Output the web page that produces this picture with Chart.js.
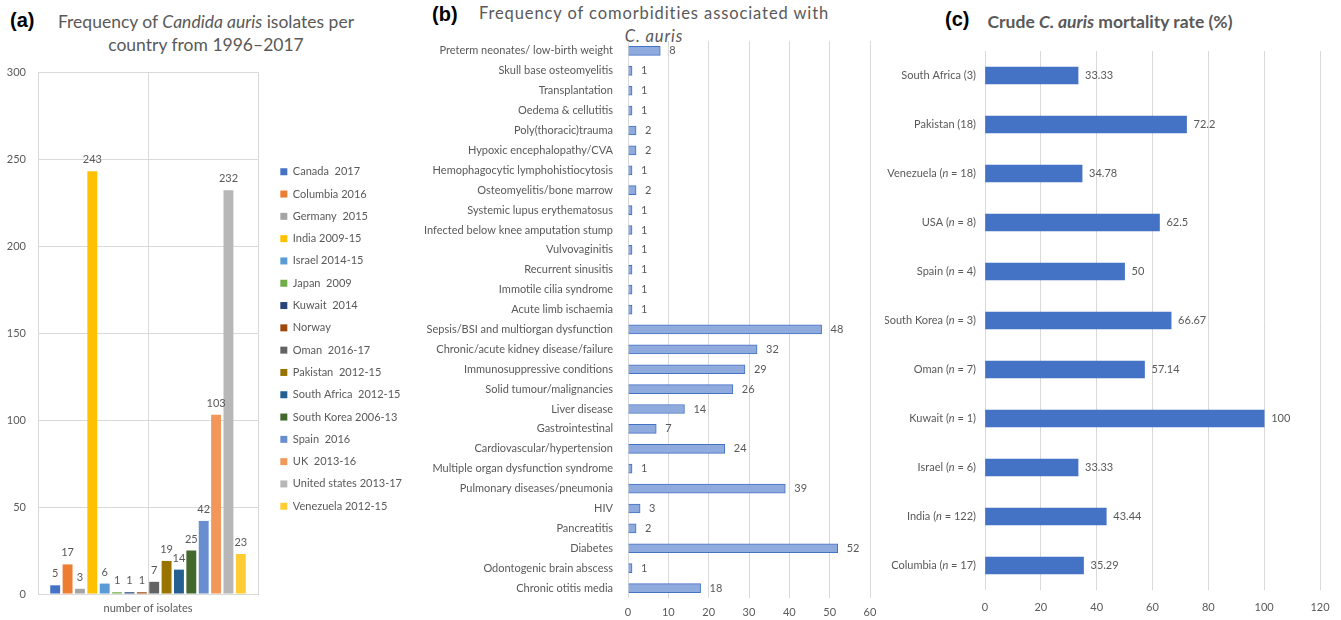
<!DOCTYPE html>
<html>
<head>
<meta charset="utf-8">
<script src="https://cdn.jsdelivr.net/npm/chart.js@4.4.1/dist/chart.umd.min.js"></script>
<style>
body{margin:0;background:#fff;width:1341px;height:620px;position:relative;overflow:hidden;font-family:Lato,"Liberation Sans",sans-serif}
canvas{position:absolute;top:0}
.tag{position:absolute;font:bold 20px "Liberation Sans",Arial,sans-serif;color:#000}
.ttl{position:absolute;color:#595959;text-align:center;white-space:nowrap}
</style>
</head>
<body>
<div class="tag" style="left:10px;top:9px">(a)</div>
<div class="ttl" style="left:36px;width:340px;top:10px;font-size:17.5px;line-height:23px">Frequency of <i>Candida auris</i> isolates per<br>country from 1996–2017</div>
<div class="tag" style="left:432px;top:3px">(b)</div>
<div class="ttl" style="left:464px;width:380px;top:2px;font-size:16.5px;line-height:23px;letter-spacing:0.9px">Frequency of comorbidities associated with<br><i>C. auris</i></div>
<div class="tag" style="left:945px;top:8px">(c)</div>
<div class="ttl" style="left:950px;width:320px;top:10px;font-size:17.5px;line-height:23px;font-weight:bold">Crude <i>C. auris</i> mortality rate (%)</div>

<canvas id="chartA" width="412" height="620" style="left:0"></canvas>
<canvas id="chartB" width="480" height="620" style="left:405px"></canvas>
<canvas id="chartC" width="456" height="620" style="left:885px"></canvas>

<script>
// (a) isolates per country
const countries = ['Canada  2017', 'Columbia 2016', 'Germany  2015', 'India 2009-15', 'Israel 2014-15',
  'Japan  2009', 'Kuwait  2014', 'Norway', 'Oman  2016-17', 'Pakistan  2012-15', 'South Africa  2012-15',
  'South Korea 2006-13', 'Spain  2016', 'UK  2013-16', 'United states 2013-17', 'Venezuela 2012-15'];
const isolates = [5, 17, 3, 243, 6, 1, 1, 1, 7, 19, 14, 25, 42, 103, 232, 23];
const isolateTicks = [0, 50, 100, 150, 200, 250, 300];

// (b) comorbidities
const comorbidities = ['Preterm neonates/ low-birth weight', 'Skull base osteomyelitis', 'Transplantation',
  'Oedema & cellutitis', 'Poly(thoracic)trauma', 'Hypoxic encephalopathy/CVA', 'Hemophagocytic lymphohistiocytosis',
  'Osteomyelitis/bone marrow', 'Systemic lupus erythematosus', 'Infected below knee amputation stump',
  'Vulvovaginitis', 'Recurrent sinusitis', 'Immotile cilia syndrome', 'Acute limb ischaemia',
  'Sepsis/BSI and multiorgan dysfunction', 'Chronic/acute kidney disease/failure', 'Immunosuppressive conditions',
  'Solid tumour/malignancies', 'Liver disease', 'Gastrointestinal', 'Cardiovascular/hypertension',
  'Multiple organ dysfunction syndrome', 'Pulmonary diseases/pneumonia', 'HIV', 'Pancreatitis', 'Diabetes',
  'Odontogenic brain abscess', 'Chronic otitis media'];
const comorbidityCounts = [8, 1, 1, 1, 2, 2, 1, 2, 1, 1, 1, 1, 1, 1, 48, 32, 29, 26, 14, 7, 24, 1, 39, 3, 2, 52, 1, 18];

// (c) mortality
const mortalityLabels = ['South Africa (3)', 'Pakistan (18)', 'Venezuela (n = 18)', 'USA (n = 8)', 'Spain (n = 4)',
  'South Korea (n = 3)', 'Oman (n = 7)', 'Kuwait (n = 1)', 'Israel (n = 6)', 'India (n = 122)', 'Columbia (n = 17)'];
const mortalityRates = [33.33, 72.2, 34.78, 62.5, 50, 66.67, 57.14, 100, 33.33, 43.44, 35.29];

const palette = ['#4472C4', '#ED7D31', '#A5A5A5', '#FFC000', '#5B9BD5', '#70AD47', '#264478', '#9E480E',
  '#636363', '#997300', '#255E91', '#43682B', '#698ED0', '#F1975A', '#B7B7B7', '#FFCD33'];

const FONT = 'Lato, "Liberation Sans", sans-serif';
const GREY = '#595959';
const GRID = '#D9D9D9';

// value labels next to / above each bar
const valueLabels = {
  id: 'valueLabels',
  afterDatasetsDraw(chart, args, opts) {
    const ctx = chart.ctx;
    const horizontal = chart.options.indexAxis === 'y';
    ctx.save();
    ctx.font = opts.size + 'px ' + FONT;
    ctx.fillStyle = GREY;
    chart.data.datasets.forEach((ds, di) => {
      chart.getDatasetMeta(di).data.forEach((bar, i) => {
        const v = String(ds.data[i]);
        if (horizontal) {
          ctx.textAlign = 'left'; ctx.textBaseline = 'middle';
          ctx.fillText(v, bar.x + opts.offset, bar.y);
        } else {
          ctx.textAlign = 'center'; ctx.textBaseline = 'bottom';
          ctx.fillText(v, bar.x, bar.y - opts.offset);
        }
      });
    });
    ctx.restore();
  }
};

// category labels of (c) with an italic n
const italicN = {
  id: 'italicN',
  afterDraw(chart) {
    const scale = chart.scales.y;
    const ctx = chart.ctx;
    ctx.save();
    ctx.fillStyle = GREY;
    ctx.textBaseline = 'middle';
    ctx.textAlign = 'left';
    mortalityLabels.forEach((label, i) => {
      const parts = label.split(/(\bn\b)/);
      const fonts = parts.map(p => (p === 'n' ? 'italic ' : '') + '11px ' + FONT);
      let w = 0;
      parts.forEach((p, k) => { ctx.font = fonts[k]; w += ctx.measureText(p).width; });
      let x = scale.right - 9 - w;
      const y = scale.getPixelForValue(i);
      parts.forEach((p, k) => { ctx.font = fonts[k]; ctx.fillText(p, x, y); x += ctx.measureText(p).width; });
    });
    ctx.restore();
  }
};

const tickFont = { family: FONT, size: 11 };

new Chart(document.getElementById('chartA'), {
  type: 'bar',
  data: {
    labels: ['number of isolates'],
    datasets: countries.map((c, i) => ({
      label: c,
      data: [isolates[i]],
      backgroundColor: palette[i],
      xAxisID: 'x',
      yAxisID: 'y',
      categoryPercentage: 0.9,
      barPercentage: 0.8
    }))
  },
  options: {
    responsive: false,
    animation: false,
    layout: { padding: { top: 58, right: 0, bottom: 0, left: 0 } },
    plugins: {
      legend: {
        position: 'right',
        maxWidth: 200,
        labels: { boxWidth: 7, boxHeight: 7, padding: 11.3, color: GREY, font: tickFont }
      },
      tooltip: { enabled: false },
      valueLabels: { offset: 6, size: 11 }
    },
    scales: {
      x: {
        grid: { offset: false, color: GRID, drawTicks: false },
        border: { color: GRID },
        ticks: { color: GREY, font: tickFont, padding: 8 },
        afterFit: s => { s.height = 26; }
      },
      y: {
        min: 0, max: 300,
        afterBuildTicks: s => { s.ticks = isolateTicks.map(v => ({ value: v })); },
        ticks: { color: GREY, font: tickFont, padding: 12 },
        grid: { color: GRID, drawTicks: false },
        border: { display: true, color: GRID },
        afterFit: s => { s.width = 38; }
      },
      gapTop: {
        axis: 'x', type: 'linear', position: 'top',
        grid: { display: false }, ticks: { display: false }, border: { display: false },
        afterFit: s => { s.height = 14; }
      },
      gapRight: {
        axis: 'y', type: 'linear', position: 'right',
        grid: { display: false }, ticks: { display: false }, border: { display: true, color: GRID },
        afterFit: s => { s.width = 11; }
      }
    }
  },
  plugins: [valueLabels]
});

new Chart(document.getElementById('chartB'), {
  type: 'bar',
  data: {
    labels: comorbidities,
    datasets: [{
      data: comorbidityCounts,
      backgroundColor: '#8FAADC',
      borderColor: '#4472C4',
      borderWidth: 1,
      barThickness: 9
    }]
  },
  options: {
    indexAxis: 'y',
    responsive: false,
    animation: false,
    layout: { padding: { top: 41, right: 15, bottom: 0, left: 0 } },
    plugins: {
      legend: { display: false },
      tooltip: { enabled: false },
      valueLabels: { offset: 9, size: 11 }
    },
    scales: {
      x: {
        min: 0, max: 60,
        ticks: { stepSize: 10, padding: 8, color: GREY, font: tickFont },
        grid: { color: GRID, drawTicks: false },
        border: { display: false },
        afterFit: s => { s.height = 22; }
      },
      y: {
        ticks: { autoSkip: false, padding: 7, color: GREY, font: { family: FONT, size: 11 } },
        grid: { display: false },
        border: { display: false },
        afterFit: s => { s.width = 223; }
      }
    }
  },
  plugins: [valueLabels]
});

new Chart(document.getElementById('chartC'), {
  type: 'bar',
  data: {
    labels: mortalityLabels,
    datasets: [{
      data: mortalityRates,
      backgroundColor: '#4472C4',
      barThickness: 17
    }]
  },
  options: {
    indexAxis: 'y',
    responsive: false,
    animation: false,
    layout: { padding: { top: 51, right: 21, bottom: 0, left: 0 } },
    plugins: {
      legend: { display: false },
      tooltip: { enabled: false },
      valueLabels: { offset: 7, size: 11 }
    },
    scales: {
      x: {
        min: 0, max: 120,
        ticks: { stepSize: 20, padding: 11, color: GREY, font: tickFont },
        grid: { color: GRID, drawTicks: false },
        border: { display: false },
        afterFit: s => { s.height = 30; }
      },
      y: {
        ticks: { display: false },
        grid: { display: false },
        border: { display: false },
        afterFit: s => { s.width = 100; }
      }
    }
  },
  plugins: [valueLabels, italicN]
});
</script>
</body>
</html>
